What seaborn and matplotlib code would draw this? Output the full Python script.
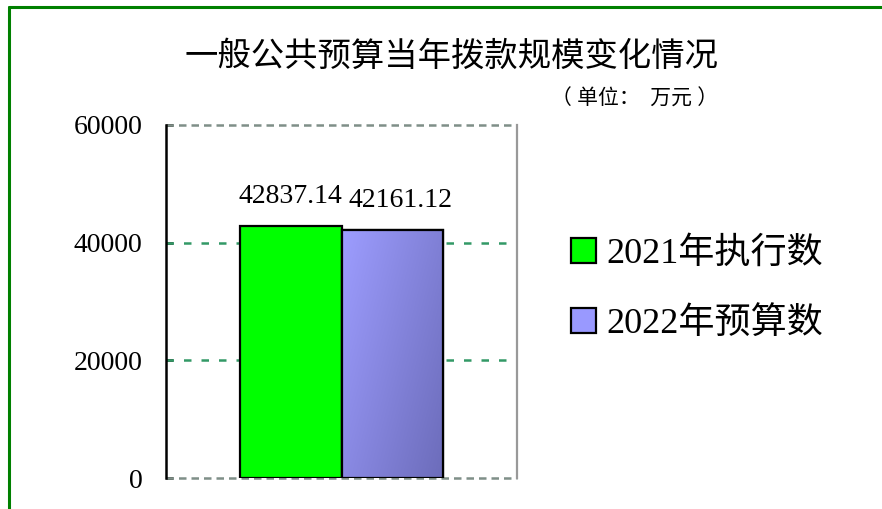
import numpy as np
import pandas as pd
import matplotlib
matplotlib.use("Agg")
import matplotlib.pyplot as plt
from matplotlib.lines import Line2D
from matplotlib.patches import Patch
from matplotlib.colors import LinearSegmentedColormap
import seaborn as sns

# data
years = ["2021年执行数", "2022年预算数"]
values = [42837.14, 42161.12]
yticks = [0, 20000, 40000, 60000]
title = "一般公共预算当年拨款规模变化情况"
unit = "（ 单位：  万元 ）"

df = pd.DataFrame({"grp": ["", ""], "year": years, "value": values})

sns.set_theme(style="white")
plt.rcParams["font.family"] = ["Liberation Serif", "Noto Sans CJK SC"]
plt.rcParams["text.color"] = "black"
plt.rcParams["ytick.color"] = "black"
plt.rcParams["ytick.labelcolor"] = "black"

fig = plt.figure(figsize=(8.82, 5.09), dpi=100)
ax = fig.add_axes([166 / 882, 1 - 478 / 509, (517 - 166) / 882, (478 - 125) / 509])

colors = ["#00ff00", "#9999ff"]
sns.barplot(data=df, x="grp", y="value", hue="year", palette=colors,
            width=0.8, edgecolor="black", linewidth=1.6, saturation=1,
            legend=False, ax=ax, zorder=3)

ax.set_xticks([])
ax.set_xlabel("")
ax.set_ylabel("")

# gridlines
for y in [20000, 40000]:
    ax.axhline(y, color="#339966", linestyle=(0, (3, 4)), linewidth=1.8, zorder=1)
for y in [0, 60000]:
    ax.axhline(y, color="#7f8f88", linestyle=(0, (3, 2)), linewidth=1.8, zorder=1, clip_on=False)

for s in ["top", "bottom"]:
    ax.spines[s].set_visible(False)
ax.spines["right"].set_color("#999999")
ax.spines["right"].set_linewidth(1.6)
ax.spines["left"].set_color("black")
ax.spines["left"].set_linewidth(1.8)

# gradient on the second bar (light top-left to dark bottom-right)
b = ax.patches[1]
x0, y0 = b.get_x(), b.get_y()
w, h = b.get_width(), b.get_height()
gx, gy = np.meshgrid(np.linspace(0, 1, 100), np.linspace(0, 1, 200))
grad = gx * 0.6 + gy * 0.4
cmap = LinearSegmentedColormap.from_list("g", ["#9d9dff", "#6c6cba"])
im = ax.imshow(grad, cmap=cmap, extent=[x0, x0 + w, y0, y0 + h], origin="upper",
               aspect="auto", zorder=3.5)
im.set_clip_path(b)
ax.add_patch(plt.Rectangle((x0, y0), w, h, fill=False, edgecolor="black", linewidth=1.6, zorder=4))

ax.set_xlim(-0.695, 0.695)
ax.set_ylim(0, 60000)
ax.set_yticks(yticks)
ax.set_yticklabels([str(t) for t in yticks], fontsize=20)
ax.tick_params(axis="y", direction="in", length=5, width=1.8, color="black", pad=17, left=True)

# value labels
shifts = [-1, 8]
for i, p in enumerate(ax.patches[:2]):
    ax.annotate(f"{values[i]:.2f}", (p.get_x() + p.get_width() / 2, p.get_height()),
                xytext=(shifts[i] * 0.72, 12), textcoords="offset points",
                ha="center", va="bottom", fontsize=20, color="black")

# legend
handles = [Patch(facecolor=colors[i], edgecolor="black", linewidth=1.6, label=years[i]) for i in range(2)]
fig.legend(handles=handles, loc="center left", bbox_to_anchor=(538 / 882, 1 - 289 / 509),
           frameon=False, fontsize=26, handlelength=0.7, handleheight=0.7,
           handletextpad=0.3, labelspacing=1.0, labelcolor="black")

fig.text(452 / 882, 1 - 57 / 509, title, fontsize=24, ha="center", va="center", color="black")
fig.text(718 / 882, 1 - 100 / 509, unit, fontsize=15, ha="right", va="center", color="black")

# green frame
fig.add_artist(Line2D([9 / 882, 9 / 882], [0, 1 - 7 / 509], color="#008000", linewidth=2.2,
                      transform=fig.transFigure))
fig.add_artist(Line2D([9 / 882, 1], [1 - 7 / 509, 1 - 7 / 509], color="#008000", linewidth=2.2,
                      transform=fig.transFigure))

fig.savefig("out.png", dpi=100, facecolor="white")
